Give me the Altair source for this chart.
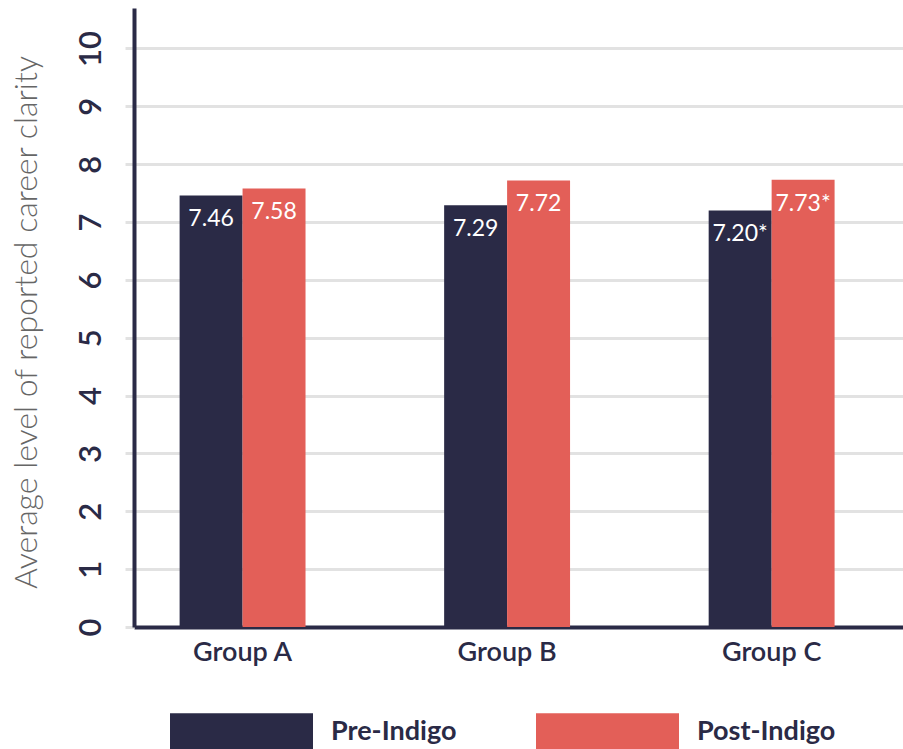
import altair as alt
import pandas as pd

groups = ["Group A", "Group B", "Group C"]
series = ["Pre-Indigo", "Post-Indigo"]
pre_values = [7.46, 7.29, 7.20]
post_values = [7.58, 7.72, 7.73]
pre_labels = ["7.46", "7.29", "7.20*"]
post_labels = ["7.58", "7.72", "7.73*"]
colors = ["#2a2a46", "#e35f58"]

rows = []
for g, v, l in zip(groups, pre_values, pre_labels):
    rows.append({"group": g, "series": series[0], "value": v, "label": l})
for g, v, l in zip(groups, post_values, post_labels):
    rows.append({"group": g, "series": series[1], "value": v, "label": l})
df = pd.DataFrame(rows)

NAVY = "#2a2a46"
FONT = "Lato"

x_enc = alt.X(
    "group:N",
    sort=groups,
    scale=alt.Scale(paddingInner=0.524, paddingOuter=0.2155, align=0.40),
    axis=alt.Axis(
        title=None, labelAngle=0, ticks=False, grid=False,
        labelFont=FONT, labelFontSize=27, labelFontWeight=600, labelColor=NAVY,
        labelPadding=12, labelBaseline="top",
        domainColor=NAVY, domainWidth=4,
    ),
)
xo_enc = alt.XOffset("series:N", sort=series, scale=alt.Scale(paddingInner=0, paddingOuter=0))
y_enc = alt.Y(
    "value:Q",
    scale=alt.Scale(domain=[0, 10.7], nice=False, zero=True),
    axis=alt.Axis(
        values=list(range(11)), format="d",
        title="Average level of reported career clarity",
        titleFont=FONT, titleFontSize=32, titleFontWeight=300, titleColor="#666666",
        titleAngle=-90, titleX=-98, titleY=314, titleAlign="center", titleBaseline="alphabetic",
        labelAngle=-90, labelAlign="center", labelBaseline="alphabetic",
        labelFont=FONT, labelFontSize=31, labelFontWeight=600, labelColor=NAVY, labelPadding=25,
        tickSize=9, tickColor="#e2e2e2", tickWidth=3,
        gridColor="#e2e2e2", gridWidth=3,
        domainColor=NAVY, domainWidth=4,
    ),
)

bars = alt.Chart(df).mark_bar().encode(
    x=x_enc,
    xOffset=xo_enc,
    y=y_enc,
    color=alt.Color(
        "series:N",
        sort=series,
        scale=alt.Scale(domain=series, range=colors),
        legend=alt.Legend(
            orient="none", legendX=36, legendY=652, direction="horizontal",
            title=None,
            symbolType="M-1,-0.26H1V0.26H-1Z", symbolSize=20449,
            symbolStrokeWidth=0, symbolOpacity=1,
            labelFont=FONT, labelFontSize=27, labelFontWeight="bold", labelColor=NAVY,
            labelOffset=18, columnPadding=79, labelLimit=300,
        ),
    ),
)

text = alt.Chart(df).mark_text(
    color="white", font=FONT, fontSize=23, baseline="middle", align="center", dy=24
).encode(
    x=alt.X("group:N", sort=groups),
    xOffset=alt.XOffset("series:N", sort=series),
    y=alt.Y("value:Q"),
    text="label:N",
)

chart = (
    alt.layer(bars, text)
    .properties(
        width=769, height=619,
        autosize=alt.AutoSizeParams(type="none"),
        padding={"left": 134, "top": 8, "right": 0, "bottom": 122},
        background="white",
    )
    .configure_view(stroke=None)
)

chart.save("out.html", embed_options={"renderer": "svg", "actions": False})
